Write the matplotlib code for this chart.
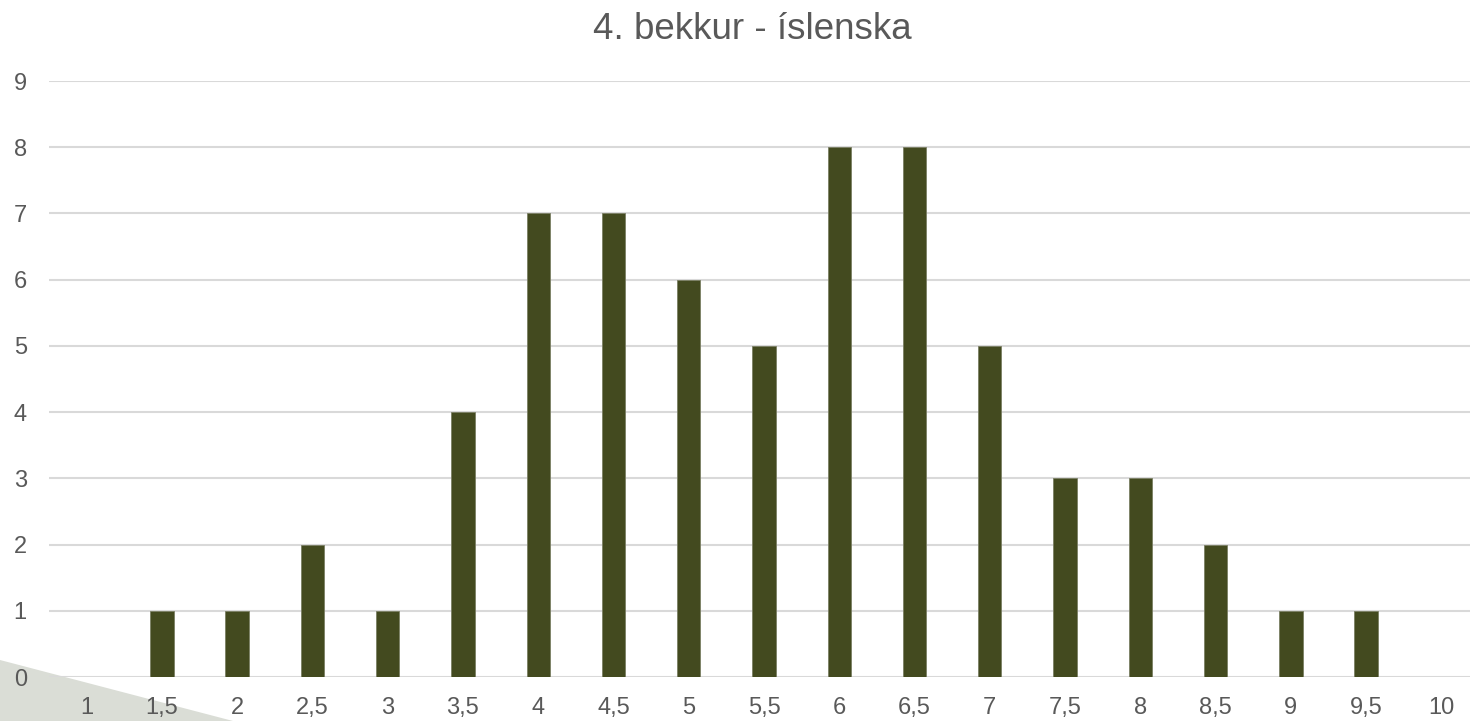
import numpy as np
import matplotlib.pyplot as plt
from matplotlib.patches import Polygon

# grade categories and number of students
grades = ['1', '1,5', '2', '2,5', '3', '3,5', '4', '4,5', '5', '5,5',
          '6', '6,5', '7', '7,5', '8', '8,5', '9', '9,5', '10']
counts = [0, 1, 1, 2, 1, 4, 7, 7, 6, 5, 8, 8, 5, 3, 3, 2, 1, 1, 0]
yticks = list(range(0, 10))

plt.rcParams['font.family'] = ['Liberation Sans', 'DejaVu Sans']

W, H = 1470, 721
fig = plt.figure(figsize=(W / 100, H / 100), dpi=100)

# grey slide decoration in the lower left corner
deco = Polygon([(0, 1 - 660 / H), (233 / W, 0), (0, 0)], closed=True,
               transform=fig.transFigure, facecolor='#DADDD6',
               edgecolor='none', zorder=-1)
fig.patches.append(deco)

ax = fig.add_axes([49 / W, 1 - 677 / H, 1430 / W, (677 - 81) / H])
ax.set_facecolor('none')

x = np.arange(len(grades))
ax.bar(x, counts, width=0.31, color='#434A1F', edgecolor='#7A7F64',
       linewidth=0.6, zorder=3)

ax.set_xlim(-0.5, len(grades) - 0.5)
ax.set_ylim(0, 9)
ax.set_yticks(yticks)
ax.set_xticks(x)
ax.set_xticklabels(grades)
ax.grid(axis='y', color='#D9D9D9', linewidth=1.5, zorder=0)
ax.set_axisbelow(True)
for s in ax.spines.values():
    s.set_visible(False)
ax.tick_params(length=0, labelsize=17, colors='#595959')
ax.tick_params(axis='x', pad=14.5)
ax.tick_params(axis='y', pad=16)

fig.text(752 / W, 1 - 39 / H, '4. bekkur - íslenska', ha='center',
         va='baseline', fontsize=26.5, color='#595959')

fig.savefig('out.png', dpi=100)
